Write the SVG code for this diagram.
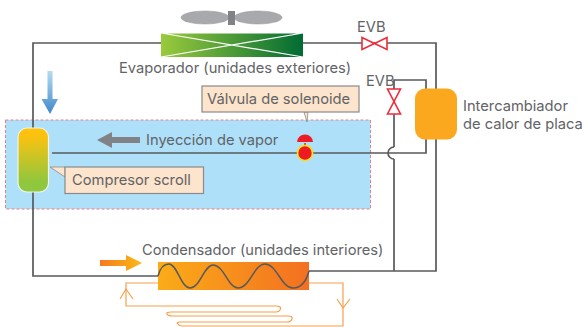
<svg xmlns="http://www.w3.org/2000/svg" width="585" height="327" viewBox="0 0 585 327">
<style>
text{font-family:"Inter","Open Sans","Liberation Sans",sans-serif;fill:#626366;font-size:14.700px}
.p{fill:none;stroke:#58595b;stroke-width:1.7}
.o{fill:none;stroke:#f7a04b;stroke-width:1.2}
.v{fill:#fff;stroke:#ed2d3a;stroke-width:1.6}
.b{fill:#fde4cc;stroke:#8a8a8a;stroke-width:1.2}
</style>
<defs>
<linearGradient id="ge"><stop offset="0" stop-color="#9aca3c"/><stop offset="1" stop-color="#006b33"/></linearGradient>
<linearGradient id="gc" x1="0" y1="0" x2="0" y2="1"><stop offset="0.1" stop-color="#ffc20e"/><stop offset="0.85" stop-color="#8fc73e"/></linearGradient>
<linearGradient id="gd"><stop offset="0" stop-color="#fbac18"/><stop offset="1" stop-color="#f37021"/></linearGradient>
<linearGradient id="ga" x1="0" y1="0" x2="0" y2="1"><stop offset="0" stop-color="#b5dcf3"/><stop offset="1" stop-color="#3f87c9"/></linearGradient>
<linearGradient id="gf"><stop offset="0" stop-color="#f47b20"/><stop offset="1" stop-color="#fdb913"/></linearGradient>
</defs>
<g id="zone"><rect x="5.500" y="120" width="365" height="89" fill="#aee0f9" stroke="#e8808a" stroke-width="1" stroke-dasharray="3 2"/></g>
<g id="connectors">
<path class="p" d="M161 43H33V276H158"/>
<path class="p" d="M303 43H436V271H309"/>
<path class="p" d="M394 271V159M394 147V80H426V153H52"/>
<path class="p" d="M394 147A6 6 0 0 0 394 159"/>
<path class="o" d="M158 283H126V306H276Q282 306 280 310Q279 312 276 312H171Q166 312 167 314Q168 316 172 316H288Q293 316 292 319Q291 322 287 322H180Q176 322 178 324Q179 326 182 326H343V283H309"/>
<path class="o" d="M120 299L126 289L133 299M337 299L343 308L350 299"/>
</g>
<g id="fan">
<ellipse cx="205" cy="17.500" rx="24" ry="6.500" fill="#a7a9ac" stroke="#939598" stroke-width="0.5"/>
<ellipse cx="258" cy="17.500" rx="24" ry="6.500" fill="#a7a9ac" stroke="#939598" stroke-width="0.5"/>
<rect x="228" y="11" width="7" height="14" fill="#808285"/>
</g>
<g id="evaporator">
<rect x="161" y="33" width="142" height="24" fill="url(#ge)"/>
<path d="M161 33L303 57M303 33L161 57M161 33H303" fill="none" stroke="#fff" stroke-width="1.200"/>
<text x="119" y="73">Evaporador (unidades exteriores)</text>
</g>
<g id="evb-top">
<path class="v" d="M362 37.500L387 49.500V37.500L362 49.500Z"/>
<text x="357" y="32">EVB</text>
</g>
<g id="evb-side">
<path class="v" d="M387.500 89H400.500L387.500 114H400.500Z"/>
<text x="366" y="86">EVB</text>
</g>
<g id="exchanger">
<rect x="415" y="88.500" width="42" height="51" rx="10" fill="#fca81f"/>
<text x="463" y="111">Intercambiador</text>
<text x="463" y="129">de calor de placa</text>
</g>
<g id="solenoid-label">
<path d="M304 112L307 122L308 112Z" fill="#fde4cc" stroke="#8a8a8a" stroke-width="0.8"/>
<rect class="b" x="202" y="86" width="157" height="26"/>
<text x="207" y="104">Válvula de solenoide</text>
</g>
<g id="solenoid">
<path d="M305 143V147" stroke="#ed1c24" stroke-width="1.500"/>
<path d="M297 142A8 7.500 0 0 1 313 142Z" fill="#ed1c24"/>
<circle cx="305" cy="153" r="7.500" fill="#ed1c24" stroke="#ffe000" stroke-width="1.600"/>
</g>
<g id="injection">
<path d="M97 140L112 132V137H140V143H112V148Z" fill="#808285"/>
<text x="146" y="145">Inyección de vapor</text>
</g>
<g id="arrow-down"><path d="M47.500 71H52.500V99H58L50 114L41.500 99H47.500Z" fill="url(#ga)"/></g>
<g id="compressor">
<rect x="18" y="128" width="30.500" height="64" rx="9" fill="url(#gc)" stroke="#f4f4e8" stroke-width="1.200"/>
<path d="M50 167L65 167L65 177Z" fill="#fde4cc" stroke="#8a8a8a" stroke-width="0.8"/>
<rect class="b" x="65" y="167" width="138.500" height="26.500"/>
<text x="72" y="185">Compresor scroll</text>
</g>
<g id="condenser">
<rect x="158" y="262" width="151" height="28" fill="url(#gd)"/>
<path d="M158 276C160 268 164 264 169 264C177 264 181 288 190 288C200 288 204 265 213 265C224 265 228 288 238 288C250 288 254 264 265 264C277 264 281 288 293 288C301 288 306 282 309 271" fill="none" stroke="#58595b" stroke-width="1.500"/>
<text x="142" y="255">Condensador (unidades interiores)</text>
</g>
<g id="arrow-right"><path d="M100 260H126V255L142 263L126 271V266H100Z" fill="url(#gf)"/></g>
</svg>
